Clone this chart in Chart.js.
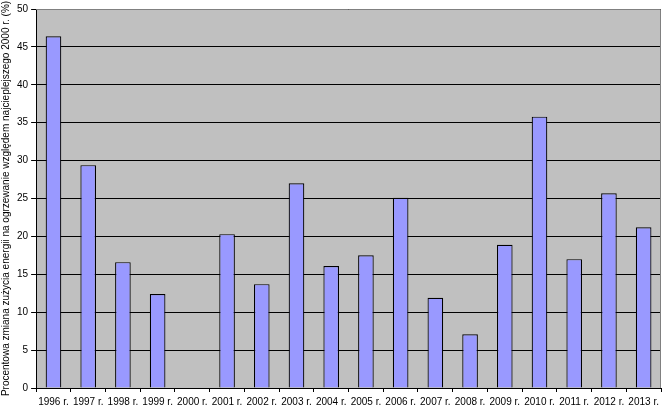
<!DOCTYPE html>
<html>
<head>
<meta charset="utf-8">
<script src="https://cdn.jsdelivr.net/npm/chart.js@4/dist/chart.umd.min.js"></script>
<style>
  html, body { margin: 0; padding: 0; background: #fff; }
  #wrap { width: 665px; height: 412px; }
</style>
</head>
<body>
<div id="wrap"><canvas id="chart"></canvas></div>
<script>
const years = ["1996 r.", "1997 r.", "1998 r.", "1999 r.", "2000 r.", "2001 r.", "2002 r.", "2003 r.", "2004 r.",
    "2005 r.", "2006 r.", "2007 r.", "2008 r.", "2009 r.", "2010 r.", "2011 r.", "2012 r.", "2013 r."];
const changePct = [46.4, 29.4, 16.6, 12.4, 0, 20.3, 13.7, 27.0, 16.1,
    17.5, 25.1, 11.9, 7.1, 18.9, 35.8, 17.0, 25.7, 21.2];
const yTitle = "Procentowa zmiana zużycia energii na ogrzewanie względem najcieplejszego 2000 r. (%)";

// grey plot area with grey frame, like the old Excel look
const plotBg = {
    id: "plotBg",
    beforeDraw(chart) {
        let { ctx, chartArea: a } = chart;
        ctx.save();
        ctx.fillStyle = "#c0c0c0";
        ctx.fillRect(a.left, a.top, a.right - a.left, a.bottom - a.top);
        ctx.restore();
    },
    afterDraw(chart) {
        let { ctx, chartArea: a } = chart;
        ctx.save();
        ctx.strokeStyle = "#808080";
        ctx.lineWidth = 1;
        ctx.beginPath();
        ctx.moveTo(a.left, a.top + 0.5);
        ctx.lineTo(a.right - 0.5, a.top + 0.5);
        ctx.lineTo(a.right - 0.5, a.bottom);
        ctx.stroke();
        ctx.restore();
    }
};

Chart.defaults.font.family = "'Liberation Sans', Arial, sans-serif";
Chart.defaults.font.size = 10;
Chart.defaults.color = "#000";

new Chart(document.getElementById("chart"), {
    type: "bar",
    data: {
        labels: years,
        datasets: [{
            data: changePct,
            backgroundColor: "#9999ff",
            borderColor: "#000",
            borderWidth: 1.2,
            barPercentage: 0.45,
            categoryPercentage: 1
        }]
    },
    options: {
        responsive: true,
        maintainAspectRatio: false,
        animation: false,
        layout: { padding: { top: 9, right: 4, left: 0, bottom: 0 } },
        plugins: {
            legend: { display: false },
            tooltip: { enabled: false }
        },
        scales: {
            x: {
                grid: {
                    drawOnChartArea: false,
                    drawTicks: true,
                    tickLength: 4,
                    color: "#000",
                    offset: true
                },
                border: { color: "#000" },
                ticks: { maxRotation: 0, autoSkip: false, padding: 4, font: { size: 10 } }
            },
            y: {
                min: 0,
                max: 50,
                grid: { color: "#000", tickLength: 5 },
                border: { color: "#000" },
                ticks: { stepSize: 5, padding: 3, font: { size: 10 } },
                title: {
                    display: true,
                    text: yTitle,
                    padding: { top: 0, bottom: 2 },
                    font: { size: 10 }
                }
            }
        }
    },
    plugins: [plotBg]
});
</script>
</body>
</html>
